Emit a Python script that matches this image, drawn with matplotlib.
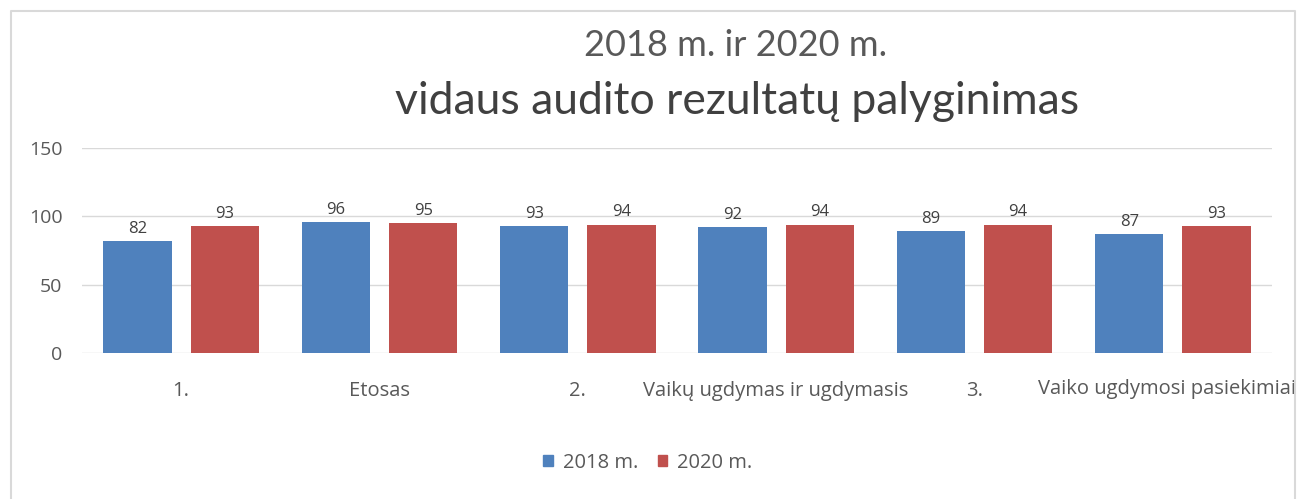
import matplotlib
matplotlib.use("Agg")
import numpy as np
import matplotlib.pyplot as plt
from matplotlib.patches import Rectangle
from matplotlib.lines import Line2D

categories = ["1.", "Etosas", "2.", "Vaikų ugdymas ir ugdymasis", "3.",
              "Vaiko ugdymosi pasiekimiai"]
vals_2018 = [82, 96, 93, 92, 89, 87]
vals_2020 = [93, 95, 94, 94, 94, 93]
series = ["2018 m.", "2020 m."]
c_blue = "#4f81bd"
c_red = "#c0504d"

W, H = 1309, 499
fig = plt.figure(figsize=(W / 100, H / 100), dpi=100)
fig.patch.set_facecolor("white")

def px(x0, y0, x1, y1):
    return [x0 / W, 1 - y1 / H, (x1 - x0) / W, (y1 - y0) / H]

ax = fig.add_axes(px(82, 148, 1272, 353))
x = np.arange(len(categories))
bw = 0.345
ax.bar(x - 0.22, vals_2018, bw, color=c_blue, zorder=3)
ax.bar(x + 0.22, vals_2020, bw, color=c_red, zorder=3)
for xi, v in zip(x, vals_2018):
    ax.text(xi - 0.22, v + 3, str(v), ha="center", va="bottom", fontsize=12,
            color="#404040", family="Open Sans")
for xi, v in zip(x, vals_2020):
    ax.text(xi + 0.22, v + 3, str(v), ha="center", va="bottom", fontsize=12,
            color="#404040", family="Open Sans")

ax.set_xlim(-0.5, len(categories) - 0.5)
ax.set_ylim(0, 150)
ax.set_yticks([0, 50, 100, 150])
ax.grid(axis="y", color="#d9d9d9", linewidth=1, zorder=0)
for s in ax.spines.values():
    s.set_visible(False)
ax.tick_params(length=0, labelsize=14, labelcolor="#595959")
ax.tick_params(axis="y", pad=14)
for lab in ax.get_yticklabels():
    lab.set_family("Open Sans")
ax.set_xticks(x[:-1])
ax.set_xticklabels(categories[:-1], family="Open Sans", fontsize=14.5)
ax.tick_params(axis="x", pad=20)
# last label is pushed left and cut at the chart border, as in the source
ax.text(4.32, -0.125, categories[-1], transform=ax.get_xaxis_transform(),
        ha="left", va="top", fontsize=14.5, color="#595959", family="Open Sans")

fig.text(0.562, 1 - 45 / H, "2018 m. ir 2020 m.", ha="center", va="center",
         fontsize=26, color="#595959", family="Lato")
fig.text(0.563, 1 - 101 / H, "vidaus audito rezultatų palyginimas", ha="center",
         va="center", fontsize=32, color="#404040", family="Lato")

handles = [Rectangle((0, 0), 1, 1, color=c_blue), Rectangle((0, 0), 1, 1, color=c_red)]
fig.legend(handles, series, loc="center", bbox_to_anchor=(648 / W, 1 - 463 / H),
           ncol=2, frameon=False, prop={"family": "Open Sans", "size": 14.5},
           handlelength=0.45, handleheight=0.45, handletextpad=0.5, columnspacing=1.0,
           labelcolor="#595959")

# clip area right of chart border and draw border
fig.patches.append(Rectangle((1296 / W, 0), 1, 1, transform=fig.transFigure,
                             facecolor="white", edgecolor="none", zorder=10))
fig.lines.append(Line2D([11 / W, 11 / W, 1295 / W, 1295 / W],
                        [0, 1 - 11 / H, 1 - 11 / H, 0], transform=fig.transFigure,
                        color="#d9d9d9", linewidth=1.5, zorder=11))

fig.savefig("out.png", dpi=100)
